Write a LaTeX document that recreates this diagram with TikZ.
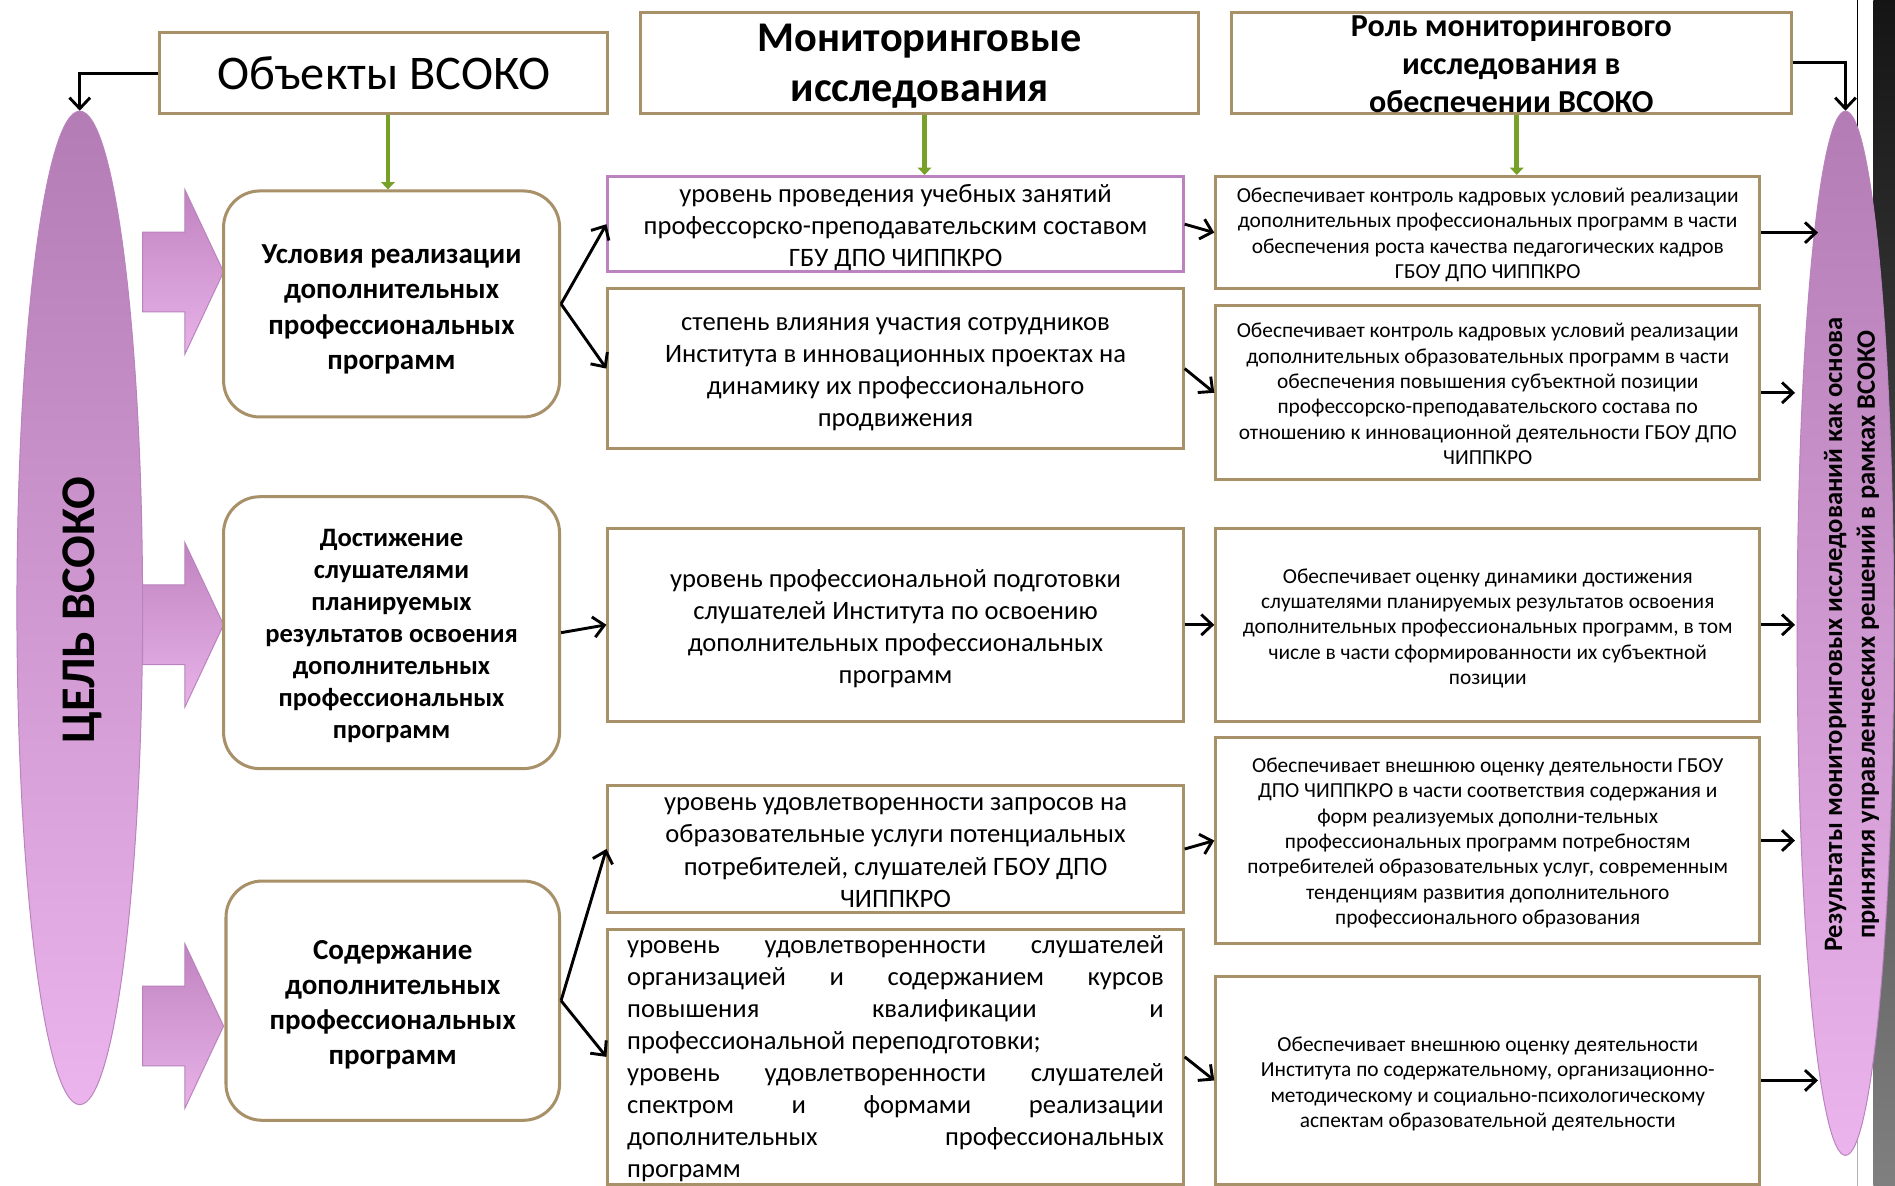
\documentclass[tikz,border=0pt]{standalone}
\usepackage{fontspec}
\setmainfont{Carlito}
\usetikzlibrary{arrows.meta,shapes.geometric,calc}
\definecolor{tanc}{RGB}{168,144,104}
\definecolor{grn}{RGB}{118,160,40}
\definecolor{purp}{RGB}{186,130,190}
\definecolor{elltop}{RGB}{180,124,180}
\definecolor{ellbot}{RGB}{236,180,236}
\definecolor{arrtop}{RGB}{192,132,192}
\definecolor{arrbot}{RGB}{232,178,232}
\begin{document}
\begin{tikzpicture}[x=1pt,y=-1pt,
  hdr/.style={draw=tanc, line width=2.5pt, fill=white, inner sep=0pt, align=center},
  rbox/.style={draw=tanc, line width=2.5pt, fill=white, inner sep=0pt, rounded corners=30pt, minimum width=278pt},
  mbox/.style={draw=tanc, line width=2.5pt, fill=white, inner sep=0pt, minimum width=476pt},
  sbox/.style={draw=tanc, line width=2.5pt, fill=white, inner sep=0pt, minimum width=450pt},
  txt/.style={inner sep=0pt, align=center},
  rtxt/.style={txt, font=\fontsize{24}{29.5}\bfseries\selectfont},
  mtxt/.style={txt, font=\fontsize{22}{26.5}\selectfont},
  stxt/.style={txt, font=\fontsize{17.7}{21}\selectfont},
  bigell/.style={ellipse, inner sep=0pt, draw=purp, line width=0.8pt, top color=elltop, bottom color=ellbot},
  conn/.style={draw=black, line width=2.4pt, -{Straight Barb[length=9pt,width=17pt,line width=2.4pt]}},
  garrow/.style={draw=grn, line width=4pt, -{Triangle[length=6pt,width=11pt]}},
  blockarr/.style={draw=purp, line width=0.8pt, top color=arrtop, bottom color=arrbot}
]
\useasboundingbox (0,0) rectangle (1568,981);
\fill[white] (0,0) rectangle (1568,981);

% right dark strip
\shade[top color=black!92, bottom color=black!50] (1550,0) rectangle (1568,981);
\draw[black, line width=1.5pt] (1537,0) -- (1537,110);
\draw[gray!60, line width=1.5pt] (1537,940) -- (1537,981);

% ellipses
\node[bigell, minimum width=104pt, minimum height=822pt] (le) at (66,503) {};
\node[txt, rotate=90, font=\fontsize{40}{48}\bfseries\selectfont] (let) at (68,505) {ЦЕЛЬ ВСОКО};
\node[bigell, minimum width=80pt, minimum height=864pt] (re) at (1527,524) {};
\node[txt, rotate=90, font=\fontsize{22}{27}\bfseries\selectfont] (ret) at (1532,525)
  {Результаты мониторинговых исследований как основа\\принятия управленческих решений в рамках ВСОКО};

% block arrows
\foreach \ty in {225,517,849}{
  \shade[blockarr] (185,\ty) -- (153,\ty-68) -- (153,\ty-33) -- (118,\ty-33) -- (118,\ty+33) -- (153,\ty+33) -- (153,\ty+68) -- cycle;
}

% headers
\node[hdr, minimum width=371pt, minimum height=67pt, font=\fontsize{40}{48}\selectfont] (h1) at (317.5,60.5) {Объекты ВСОКО};
\node[hdr, minimum width=462pt, minimum height=84pt] (h2) at (761,52) {};
\node[txt, font=\fontsize{35}{41}\bfseries\selectfont] (h2t) at (761,55) {Мониторинговые\\исследования};
\node[hdr, minimum width=463pt, minimum height=84pt] (h3) at (1250.5,52) {};
\node[txt, font=\fontsize{26.5}{31.5}\bfseries\selectfont] (h3t) at (1250.5,53) {Роль мониторингового\\исследования в\\обеспечении ВСОКО};

% rounded boxes
\node[rbox, minimum height=187pt] (r1) at (324,251.5) {};
\node[rtxt] (r1t) at ($(r1.center)+(0,4.5)$) {Условия реализации\\дополнительных\\профессиональных\\программ};
\node[rbox, minimum height=225pt] (r2) at (324,523.5) {};
\node[txt, font=\fontsize{22}{26.5}\bfseries\selectfont] (r2t) at ($(r2.center)+(0,3)$) {Достижение\\слушателями\\планируемых\\результатов освоения\\дополнительных\\профессиональных\\программ};
\node[rbox, minimum width=276pt, minimum height=198pt] (r3) at (325,828) {};
\node[txt, font=\fontsize{24}{29}\bfseries\selectfont] (r3t) at ($(r3.center)+(0,3.5)$) {Содержание\\дополнительных\\профессиональных\\программ};

% middle boxes
\node[mbox, draw=purp, minimum height=79pt] (m1) at (741,185.5) {};
\node[mtxt] (m1t) at ($(m1.center)+(0,3)$) {уровень проведения учебных занятий\\профессорско-преподавательским составом\\ГБУ ДПО ЧИППКРО};
\node[mbox, minimum height=132pt] (m2) at (741,305) {};
\node[mtxt] (m2t) at ($(m2.center)+(0,5)$) {степень влияния участия сотрудников\\Института в инновационных проектах на\\динамику их профессионального\\продвижения};
\node[mbox, minimum height=160pt] (m3) at (741,517) {};
\node[mtxt] (m3t) at ($(m3.center)+(0,3)$) {уровень профессиональной подготовки\\слушателей Института по освоению\\дополнительных профессиональных\\программ};
\node[mbox, minimum height=105pt] (m4) at (741,702.5) {};
\node[mtxt] (m4t) at ($(m4.center)+(0,3)$) {уровень удовлетворенности запросов на\\образовательные услуги потенциальных\\потребителей, слушателей ГБОУ ДПО\\ЧИППКРО};
\node[mbox, minimum height=211pt] (m5) at (741,874.5) {};
\node[mtxt, align=left] (m5t) at ($(m5.center)+(0,1.5)$)
  {\makebox[444pt][s]{уровень удовлетворенности слушателей}\\
   \makebox[444pt][s]{организацией и содержанием курсов}\\
   \makebox[444pt][s]{повышения квалификации и}\\
   \makebox[444pt][l]{профессиональной переподготовки;}\\
   \makebox[444pt][s]{уровень удовлетворенности слушателей}\\
   \makebox[444pt][s]{спектром и формами реализации}\\
   \makebox[444pt][s]{дополнительных профессиональных}\\
   \makebox[444pt][l]{программ}};

% right boxes
\node[sbox, minimum height=93pt] (s1) at (1231,192.5) {};
\node[stxt] (s1t) at ($(s1.center)+(0,2)$) {Обеспечивает контроль кадровых условий реализации\\дополнительных профессиональных программ в части\\обеспечения роста качества педагогических кадров\\ГБОУ ДПО ЧИППКРО};
\node[sbox, minimum height=144pt] (s2) at (1231,325) {};
\node[stxt] (s2t) at ($(s2.center)+(0,1)$) {Обеспечивает контроль кадровых условий реализации\\дополнительных образовательных программ в части\\обеспечения повышения субъектной позиции\\профессорско-преподавательского состава по\\отношению к инновационной деятельности ГБОУ ДПО\\ЧИППКРО};
\node[sbox, minimum height=160pt] (s3) at (1231,517) {};
\node[stxt] (s3t) at ($(s3.center)+(0,3)$) {Обеспечивает оценку динамики достижения\\слушателями планируемых результатов освоения\\дополнительных профессиональных программ, в том\\числе в части сформированности их субъектной\\позиции};
\node[sbox, minimum height=171pt] (s4) at (1231,695.5) {};
\node[stxt] (s4t) at ($(s4.center)+(0,2)$) {Обеспечивает внешнюю оценку деятельности ГБОУ\\ДПО ЧИППКРО в части соответствия содержания и\\форм реализуемых дополни-тельных\\профессиональных программ потребностям\\потребителей образовательных услуг, современным\\тенденциям развития дополнительного\\профессионального образования};
\node[sbox, minimum height=172pt] (s5) at (1231,894) {};
\node[stxt] (s5t) at ($(s5.center)+(0,3)$) {Обеспечивает внешнюю оценку деятельности\\Института по содержательному, организационно-\\методическому и социально-психологическому\\аспектам образовательной деятельности};

% elbow connectors
\draw[conn] (h1.west) -| (le.north);
\draw[conn] (h3.east) -| (re.north);

% green arrows
\draw[garrow] (h1.south -| 321,0) -- (321,0 |- r1.north);
\draw[garrow] (h2.south -| 765,0) -- (765,0 |- m1.north);
\draw[garrow] (h3.south -| 1255,0) -- (1255,0 |- s1.north);

% connectors
\draw[conn] (r1.east) -- (m1.west);
\draw[conn] (r1.east) -- (m2.west);
\draw[conn] (r2.east) -- (m3.west);
\draw[conn] (r3.east) -- (m4.west);
\draw[conn] (r3.east) -- (m5.west);
\draw[conn] (m1.east) -- (s1.west);
\draw[conn] (m2.east) -- (s2.west);
\draw[conn] (m3.east) -- (s3.west);
\draw[conn] (m4.east) -- (s4.west);
\draw[conn] (m5.east) -- (s5.west);
\draw[conn] (s1.east) -- ($(s1.east)+(47,0)$);
\draw[conn] (s2.east) -- ($(s2.east)+(28,0)$);
\draw[conn] (s3.east) -- ($(s3.east)+(28,0)$);
\draw[conn] (s4.east) -- ($(s4.east)+(28,0)$);
\draw[conn] (s5.east) -- ($(s5.east)+(47,0)$);
\end{tikzpicture}
\end{document}
